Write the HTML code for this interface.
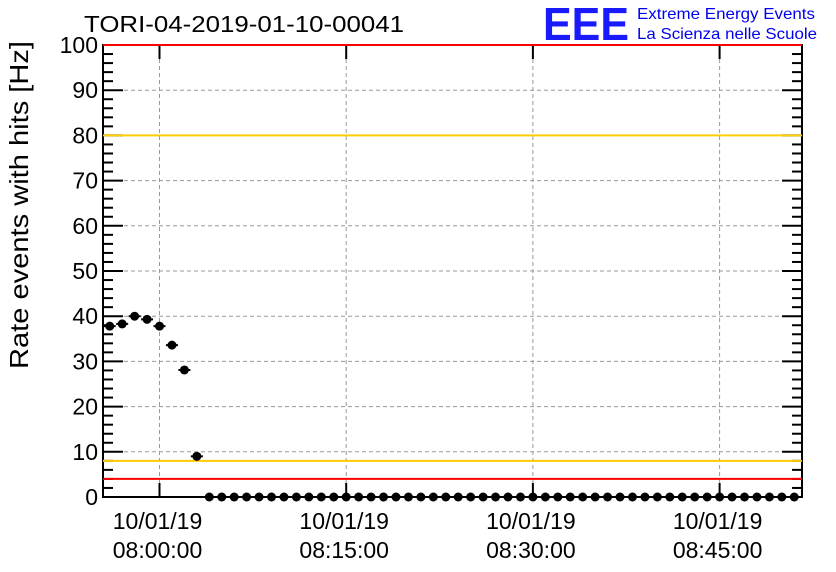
<!DOCTYPE html>
<html><head><meta charset="utf-8"><style>
body{margin:0;background:#fff}
svg{display:block;font-family:"Liberation Sans",sans-serif}
</style></head><body>
<svg id="c" width="836" height="572" viewBox="0 0 836 572">
<text x="84" y="32" font-size="23" textLength="320" lengthAdjust="spacingAndGlyphs">TORI-04-2019-01-10-00041</text>
<text x="543" y="40" font-size="46" font-weight="bold" fill="#1a1aff" textLength="86" lengthAdjust="spacingAndGlyphs">EEE</text>
<text x="637" y="19" font-size="16" fill="#0000ee" textLength="178" lengthAdjust="spacingAndGlyphs">Extreme Energy Events</text>
<text x="637" y="39" font-size="16" fill="#0000ee" textLength="180" lengthAdjust="spacingAndGlyphs">La Scienza nelle Scuole</text>
<text transform="translate(28,205) rotate(-90)" text-anchor="middle" font-size="26" textLength="328" lengthAdjust="spacingAndGlyphs">Rate events with hits [Hz]</text>
<g id="grid"></g><g id="axes"></g><g id="marks"></g>
</svg>
<script>
const yTicks=[0,10,20,30,40,50,60,70,80,90,100];
const xTickMinutes=[0,15,30,45];
const xTickDates=["10/01/19","10/01/19","10/01/19","10/01/19"];
const xTickTimes=["08:00:00","08:15:00","08:30:00","08:45:00"];
const pointMinutes=[];for(let m=-4;m<=51;m++)pointMinutes.push(m);
const rates=[37.8,38.3,40.0,39.3,37.8,33.6,28.1,9.0,0,0,0,0,0,0,0,0,0,0,0,0,0,0,0,0,0,0,0,0,0,0,0,0,0,0,0,0,0,0,0,0,0,0,0,0,0,0,0,0,0,0,0,0,0,0,0,0];
const refLines=[100,80,8,4];
const refColors=["#ff0000","#ffcc00","#ffcc00","#ff0000"];
const L=103,R=802,T=45,B=497;
const xs=m=>159.5+m*(186.7/15);
const ys=v=>B-(v/100)*(B-T);
const NS="http://www.w3.org/2000/svg";
function mk(p,t,a){const e=document.createElementNS(NS,t);for(const k in a)e.setAttribute(k,a[k]);p.appendChild(e);return e;}
const g=document.getElementById('grid'),mg=document.getElementById('marks'),ax=document.getElementById('axes');
yTicks.forEach(v=>{if(v>0&&v<100){const l=mk(g,'line',{x1:L,x2:R,y1:ys(v),y2:ys(v),stroke:'#999','stroke-dasharray':'4,3'});

}});
xTickMinutes.forEach(m=>{const l=mk(g,'line',{x1:xs(m),x2:xs(m),y1:T,y2:B,stroke:'#999','stroke-dasharray':'4,3'});

});
const fr=mk(ax,'rect',{x:L,y:T,width:R-L,height:B-T,fill:'none',stroke:'#000','stroke-width':2});


for(let v=0;v<=100;v+=2){const major=v%10===0,len=major?20:10;
mk(ax,'line',{x1:L,x2:L+len,y1:ys(v),y2:ys(v),stroke:'#000','stroke-width':2});
mk(ax,'line',{x1:R-len,x2:R,y1:ys(v),y2:ys(v),stroke:'#000','stroke-width':2});}
yTicks.forEach(v=>{const t=mk(ax,'text',{x:L-5,y:ys(v)+8,'text-anchor':'end','font-size':23});t.textContent=v;

});
xTickMinutes.forEach((m,i)=>{const x=xs(m);
mk(ax,'line',{x1:x,x2:x,y1:B-14,y2:B,stroke:'#000','stroke-width':2});
mk(ax,'line',{x1:x,x2:x,y1:T,y2:T+14,stroke:'#000','stroke-width':2});
const a=mk(ax,'text',{x:x-2,y:529,'text-anchor':'middle','font-size':23});a.textContent=xTickDates[i];


const b=mk(ax,'text',{x:x-2,y:558,'text-anchor':'middle','font-size':23});b.textContent=xTickTimes[i];

});
refLines.forEach((v,i)=>{const l=mk(mg,'line',{x1:L,x2:R,y1:ys(v),y2:ys(v),stroke:refColors[i],'stroke-width':2});

});
pointMinutes.forEach((m,i)=>{const x=xs(m),y=ys(rates[i]);
const e=mk(mg,'line',{x1:x-6,x2:x+6,y1:y,y2:y,stroke:'#000','stroke-width':2});


const c=mk(mg,'circle',{cx:x,cy:y,r:4.5,fill:'#000'});

});
</script>
</body></html>
